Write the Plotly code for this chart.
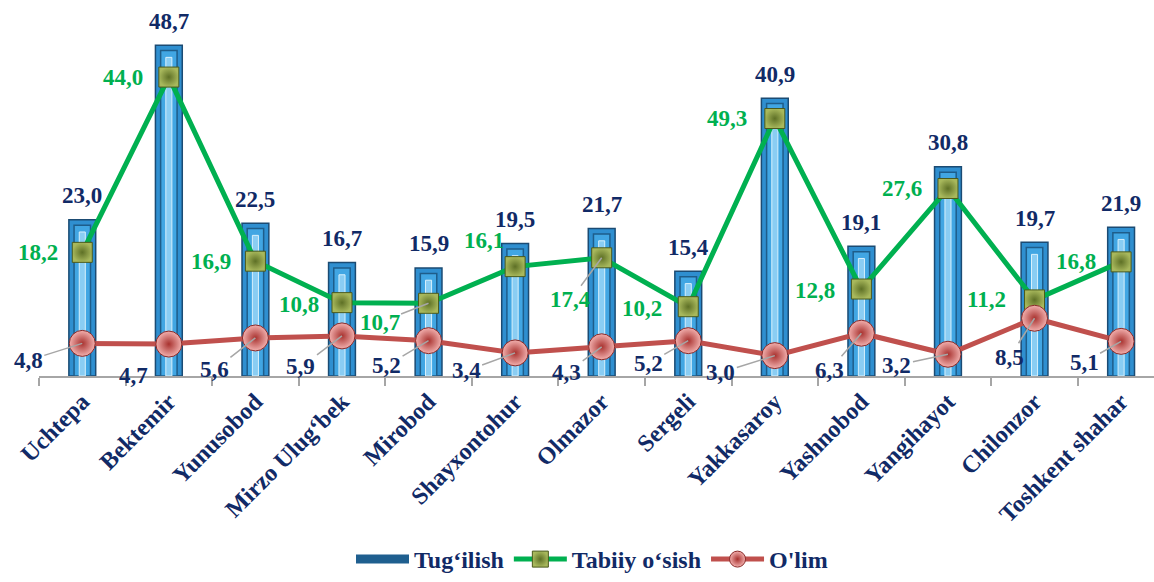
import plotly.graph_objects as go

categories = ["Uchtepa", "Bektemir", "Yunusobod", "Mirzo Ulug‘bek", "Mirobod", "Shayxontohur",
              "Olmazor", "Sergeli", "Yakkasaroy", "Yashnobod", "Yangihayot", "Chilonzor", "Toshkent shahar"]
tugilish = [23.0, 48.7, 22.5, 16.7, 15.9, 19.5, 21.7, 15.4, 40.9, 19.1, 30.8, 19.7, 21.9]
tabiiy = [18.2, 44.0, 16.9, 10.8, 10.7, 16.1, 17.4, 10.2, 37.9, 12.8, 27.6, 11.2, 16.8]
tabiiy_labels = ["18,2", "44,0", "16,9", "10,8", "10,7", "16,1", "17,4", "10,2", "49,3", "12,8", "27,6", "11,2", "16,8"]
olim = [4.8, 4.7, 5.6, 5.9, 5.2, 3.4, 4.3, 5.2, 3.0, 6.3, 3.2, 8.5, 5.1]


def fmt(v):
    return f"{v:.1f}".replace(".", ",")


FONT = '"Liberation Serif", "Times New Roman", "DejaVu Serif", serif'
NAVY = "#112A66"
GREEN = "#00B050"
RED = "#C0504D"
LBL = 23

fig = go.Figure()

# outer bar
fig.add_trace(go.Bar(
    x=categories, y=tugilish, name="Tug‘ilish", width=0.31, showlegend=False,
    marker=dict(color="#2F8FD0", line=dict(color="#1B4B73", width=1.5)),
    hoverinfo="skip"))
# inner bevel panel
fig.add_trace(go.Bar(
    x=categories, y=[v - 0.8 for v in tugilish], width=0.19, showlegend=False,
    marker=dict(color="#41A6E3", line=dict(color="#1E5D8A", width=1.5)), hoverinfo="skip"))
# inner light stripe
fig.add_trace(go.Bar(
    x=categories, y=[v - 1.8 for v in tugilish], width=0.07, showlegend=False,
    marker=dict(color="#8ACDF3", line=dict(color="#D8F0FC", width=1)), hoverinfo="skip"))
# legend entry for bars (wide flat bar icon)
fig.add_trace(go.Scatter(
    x=[None], y=[None], name="Tug‘ilish", mode="lines",
    line=dict(color="#1F5F8F", width=9)))

fig.add_trace(go.Scatter(
    x=categories, y=tabiiy, name="Tabiiy o‘sish", mode="lines+markers",
    line=dict(color=GREEN, width=5),
    marker=dict(symbol="square", size=20, color="#A8B85C",
                gradient=dict(type="radial", color="#5E7026"),
                line=dict(color="#4B5A1C", width=1)),
    cliponaxis=False))
fig.add_trace(go.Scatter(
    x=categories, y=olim, name="O'lim", mode="lines+markers",
    line=dict(color=RED, width=5),
    marker=dict(symbol="circle", size=26, color="#F2B0AE",
                gradient=dict(type="radial", color="#A8322F"),
                line=dict(color="#8A2A28", width=1)),
    cliponaxis=False))

# label offsets (pixels): text centre relative to marker
green_off = [(-44, 0), (-46, 0), (-44, 0), (-43, 2), (-49, 19), (-31, -26), (-31, 42),
             (-46, 2), (-48, 0), (-46, 1), (-46, 0), (-48, 0), (-45, 0)]
green_line = [False, False, False, False, True, False, True, False, False, False, False, False, False]
red_off = [(-54, 17), (-35, 31), (-41, 32), (-41, 31), (-42, 25), (-49, 18), (-35, 26),
           (-40, 23), (-54, 17), (-32, 37), (-51, 11), (-25, 39), (-37, 21)]
red_line = [True, False, True, True, True, True, True, True, True, True, True, True, True]

annotations = []
for i, c in enumerate(categories):
    annotations.append(dict(
        x=c, y=tugilish[i], xref="x", yref="y", text=fmt(tugilish[i]), showarrow=False,
        yanchor="middle", yshift=24,
        font=dict(family=FONT, size=LBL, color=NAVY, weight="bold")))
    ax, ay = green_off[i]
    annotations.append(dict(
        x=c, y=tabiiy[i], xref="x", yref="y", text=tabiiy_labels[i], showarrow=True,
        ax=ax, ay=ay, arrowhead=0, arrowwidth=1.5,
        arrowcolor="#A6A6A6" if green_line[i] else "rgba(0,0,0,0)",
        font=dict(family=FONT, size=LBL, color=GREEN, weight="bold")))
    ax, ay = red_off[i]
    annotations.append(dict(
        x=c, y=olim[i], xref="x", yref="y", text=fmt(olim[i]), showarrow=True,
        ax=ax, ay=ay, arrowhead=0, arrowwidth=1.5,
        arrowcolor="#A6A6A6" if red_line[i] else "rgba(0,0,0,0)",
        font=dict(family=FONT, size=LBL, color=NAVY, weight="bold")))

fig.update_layout(
    width=1154, height=582,
    margin=dict(l=39, r=0, t=20, b=206, autoexpand=False),
    paper_bgcolor="white", plot_bgcolor="white",
    barmode="overlay",
    showlegend=True,
    legend=dict(orientation="h", xref="container", yref="container", x=0.513, y=0.0,
                xanchor="center", yanchor="bottom",
                font=dict(family=FONT, size=24, color=NAVY, weight="bold"),
                itemwidth=53, traceorder="normal"),
    xaxis=dict(type="category", range=[-0.5, 12.38], tickangle=-45, tickson="boundaries",
               ticks="outside", ticklen=8, tickcolor="#A6A6A6", tickwidth=1.5,
               showline=True, linecolor="#A6A6A6", linewidth=2, showgrid=False,
               tickfont=dict(family=FONT, size=24, color=NAVY, weight="bold")),
    yaxis=dict(range=[0, 52.4], visible=False, showgrid=False, zeroline=False),
    annotations=annotations,
)

fig.write_html("out.html", config={"displayModeBar": False},
               post_script="document.body.style.margin='0';document.body.style.overflow='hidden';")
